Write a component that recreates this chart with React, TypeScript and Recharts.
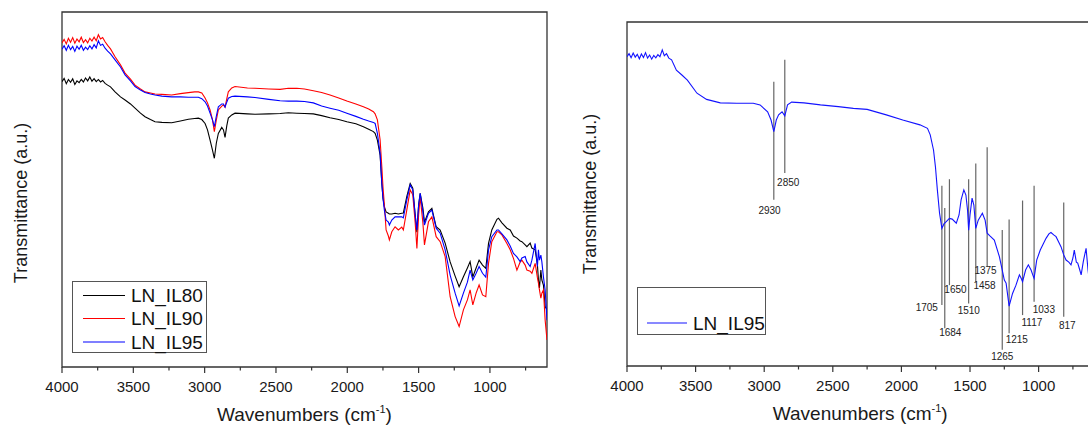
import React from 'react';
import { LineChart, Line, XAxis, YAxis, ReferenceArea, ReferenceLine, ReferenceDot, Legend } from 'recharts';

// ---------- data ----------
const LEFT_WN = [4000,3985,3970,3955,3940,3925,3910,3895,3880,3865,3850,3835,3820,3805,3790,3775,3760,3745,3730,3715,3698,3680,
  3660,3628,3590,3558,3520,3488,3450,3418,3380,3348,3300,3231,3170,3114,3070,3044,3020,2997,2980,2962,2945,2932,2918,2904,2880,2868,2857,2845,2834,2810,2787,2700,2647,2550,2471,2413,2354,2300,2238,2180,2121,2060,2003,1940,1887,1850,1817,1805,1789,1770,1758,1750,1740,1728,1712,1705,1688,1665,1642,1618,1607,1583,1559,1541,1524,1512,1500,1489,1470,1459,1431,1407,1377,1349,1314,1279,1244,1216,1186,1158,1139,1120,1097,1076,1052,1029,1010,987,
  951,940,916,881,858,835,811,788,776,753,741,718,706,683,667,660,653,643,636,625,613,600];
const IL80 = [80.4,81.3,79.8,81.0,80.2,81.2,79.6,80.6,80.1,81.0,80.3,81.4,80.6,81.7,80.5,81.2,80.4,81.0,80.3,80.7,79.9,79.4,
  78.9,77.5,76.1,75.2,74.1,72.9,71.5,70.5,69.7,69.1,68.9,68.8,69.3,69.8,70.0,70.1,69.7,68.6,66.8,63.9,61.1,58.8,63.1,65.8,67.5,66.8,64.7,67.9,70.1,71.0,71.5,71.3,71.2,71.3,71.4,71.6,71.5,71.4,71.3,70.8,70.2,69.7,69.1,68.5,67.7,67.0,66.3,65.8,63.9,59.7,51.8,47.6,45.1,43.7,43.3,43.1,43.1,43.3,43.1,43.3,43.4,48.0,51.7,50.4,42.8,38.0,45.6,48.9,44.8,40.8,43.7,44.7,39.5,38.6,34.9,29.6,25.6,22.6,25.4,27.9,29.7,25.4,27.9,30.1,28.7,27.8,34.8,38.6,
  41.6,41.9,40.6,39.1,38.6,36.9,36.3,35.5,35.3,34.4,33.9,34.9,33.5,33.0,28.7,24.5,22.3,27.3,24.5,23.1,17.0,16.1];
const IL90 = [91.3,92.3,91.0,92.6,91.5,92.8,91.2,92.4,91.6,92.9,91.4,92.2,91.3,92.6,91.8,92.9,91.9,93.6,92.4,92.8,91.6,90.6,
  89.6,87.4,85.1,82.8,81.1,79.4,78.3,77.5,77.2,76.9,76.8,76.6,77.0,77.3,77.5,77.5,77.2,75.8,74.4,72.4,69.6,66.3,69.6,72.4,73.5,73.8,73.2,75.5,77.5,78.6,79.0,78.6,78.5,78.3,78.2,78.5,78.5,78.3,77.8,77.3,76.6,75.8,74.9,74.1,73.3,72.7,71.9,71.3,69.6,64.0,56.4,50.8,45.6,38.6,36.9,35.8,38.1,39.5,38.6,39.4,38.6,44.2,49.9,48.5,40.6,33.4,42.8,48.0,40.6,34.4,40.9,42.3,36.7,35.3,31.1,19.8,14.2,11.4,16.1,18.9,21.7,17.5,20.8,23.1,20.3,19.8,29.2,35.3,
  38.1,38.1,37.2,34.8,33.0,30.6,27.3,29.6,30.1,28.7,27.3,27.0,26.4,29.2,25.1,23.6,21.7,19.4,20.8,21.7,13.2,7.6];
const IL95 = [89.5,90.5,89.2,90.6,89.4,90.3,88.9,90.4,89.5,90.6,89.2,90.1,89.4,90.5,89.6,90.8,89.9,91.9,90.6,90.9,89.8,89.0,
  88.2,86.5,84.5,82.3,80.6,79.0,78.0,77.3,76.9,76.6,76.3,76.1,76.1,76.0,76.0,76.0,75.6,74.7,73.5,71.5,69.6,67.7,70.7,73.3,74.1,74.1,73.2,74.6,75.7,76.2,76.3,76.1,75.9,75.4,75.0,74.9,74.9,74.8,74.4,73.5,72.9,72.3,71.5,70.6,69.8,69.3,68.9,68.6,65.8,60.2,51.7,47.6,44.2,41.4,40.8,40.0,41.4,42.3,42.3,42.3,42.0,47.0,51.3,49.9,42.8,38.6,45.6,48.9,43.7,40.0,43.3,44.2,39.1,37.7,33.0,25.9,20.8,17.2,20.8,23.9,27.3,24.5,26.4,28.3,26.4,25.3,33.0,36.7,
  38.6,38.6,37.5,35.8,34.1,32.0,31.0,29.7,30.7,31.1,29.6,28.3,30.1,34.8,28.3,33.0,30.1,31.5,29.6,25.4,21.7,13.2];

const RIGHT_WN = [4000,3985,3970,3955,3940,3925,3910,3895,3880,3865,3850,3835,3820,3805,3790,3775,3760,3743,3728,3712,3695,3675,
  3640,3600,3560,3490,3420,3320,3200,3080,3030,2975,2950,2930,2912,2895,2870,2850,2830,2800,2710,2590,2460,2350,2250,2110,1990,1865,1810,1790,1766,1752,1738,1722,1705,1690,1675,1650,1630,1600,1580,1565,1545,1530,1518,1510,1500,1485,1472,1458,1440,1410,1390,1375,1355,1323,1286,1265,1250,1237,1215,1190,1165,1140,1128,1117,1095,1075,1055,1040,1033,1014,988,946,925,910,890,873,837,817,800,780,764,750,740,725,715,700,690,675,667,654,640,634,620,600];
const RIGHT_IL95 = [89.9,90.8,89.6,91.0,89.8,90.6,89.3,90.7,89.7,91.1,89.5,90.4,89.2,90.3,89.6,90.5,89.9,91.9,90.2,90.8,89.5,89.0,
  86.0,84.6,83.1,79.3,77.5,76.5,76.4,76.4,75.9,73.9,71.5,68.1,71.5,73.0,73.9,72.7,75.9,76.7,76.5,75.9,75.4,74.9,74.6,73.0,71.5,70.1,69.1,67.2,62.8,57.9,51.2,44.4,40.0,41.3,41.9,42.9,42.7,41.5,43.9,48.3,51.2,49.7,45.3,39.5,43.9,48.8,46.8,40.0,42.4,44.4,42.4,38.6,37.8,36.6,31.8,27.9,25.0,24.1,17.4,21.1,23.5,26.5,25.6,24.5,27.9,29.4,27.9,26.2,25.5,30.8,33.7,37.1,38.4,38.8,38.1,37.6,34.7,32.3,30.8,30.2,29.4,31.4,33.7,30.2,29.9,27.9,26.5,30.2,31.8,34.2,27.9,26.0,29.4,27.9];

const MAJOR_TICKS = [4000, 3500, 3000, 2500, 2000, 1500, 1000];
const MINOR_TICKS = [3750, 3250, 2750, 2250, 1750, 1250, 750];
const ALL_TICKS = [...MAJOR_TICKS, ...MINOR_TICKS].sort((a, b) => b - a);

// peak annotations (right panel)
const PEAK_LABELS = ['2930','2850','1705','1684','1650','1510','1458','1375','1265','1215','1117','1033','817'];
const PEAK_WN = [2930,2850,1705,1684,1650,1510,1458,1375,1265,1215,1117,1033,817];
const PEAK_TOP = [82.6,89.0,52.4,45.9,54.3,54.3,58.9,63.6,39.5,42.6,48.1,52.4,47.5];
const PEAK_BOTTOM = [48.3,56.1,17.7,11.0,23.5,18.2,24.5,28.9,4.7,9.5,14.8,18.7,14.3];
const PEAK_LABEL_WN = [2961,2825,1815,1644,1606,1509,1394,1387,1265,1159,1049,962,791];
const PEAK_LABEL_Y = [45.3,53.3,17.1,9.7,22.3,16.1,23.3,27.9,2.7,7.6,12.6,16.3,11.9];

const SERIES_NAMES = ['LN_IL80', 'LN_IL90', 'LN_IL95'];

const leftData = LEFT_WN.map((wn, i) => ({ wn, il80: IL80[i], il90: IL90[i], il95: IL95[i] }));
const rightData = RIGHT_WN.map((wn, i) => ({ wn, il95: RIGHT_IL95[i] }));

const FONT = '"Liberation Sans", Arial, sans-serif';
const AXIS_COLOR = '#333';

const AxisTick = (props: any) => {
  const { x, y, payload } = props;
  const major = MAJOR_TICKS.includes(payload.value);
  return (
    <g>
      <line x1={x} x2={x} y1={y} y2={y + (major ? 6 : 3.5)} stroke={AXIS_COLOR} strokeWidth={1.2} />
      {major && (
        <text x={x} y={y + 24.5} textAnchor="middle" fontSize={15} fill="#1a1a1a" fontFamily={FONT}>
          {payload.value}
        </text>
      )}
    </g>
  );
};

const xTitle = (props: any) => {
  const vb = props.viewBox || {};
  const cx = vb.x + vb.width / 2;
  return (
    <text x={cx} y={vb.y + 54} textAnchor="middle" fontSize={19} fill="#1a1a1a" fontFamily={FONT}>
      Wavenumbers (cm
      <tspan dy={-8} fontSize={11}>-1</tspan>
      <tspan dy={8}>)</tspan>
    </text>
  );
};

const yTitle = (cx: number, cy: number) => () => (
  <text
    x={cx}
    y={cy}
    transform={`rotate(-90 ${cx} ${cy})`}
    textAnchor="middle"
    dominantBaseline="central"
    fontSize={18}
    fill="#1a1a1a"
    fontFamily={FONT}
  >
    Transmittance (a.u.)
  </text>
);

const LegendBox = (w: number, h: number, rowYs: number[], lineX: [number, number], textX: number) => (props: any) => {
  const payload = props.payload || [];
  return (
    <svg width={w + 2} height={h + 2} style={{ display: 'block' }}>
      <rect x={0.5} y={0.5} width={w} height={h} fill="#fff" stroke="#555" strokeWidth={1} />
      {payload.map((p: any, i: number) => (
        <g key={p.value}>
          <line x1={lineX[0]} x2={lineX[1]} y1={rowYs[i]} y2={rowYs[i]} stroke={p.color} strokeWidth={1.2} />
          <text x={textX} y={rowYs[i]} dominantBaseline="central" fontSize={19} fill="#111" fontFamily={FONT}>
            {p.value}
          </text>
        </g>
      ))}
    </svg>
  );
};

export default function App() {
  return (
    <div
      style={{
        position: 'fixed',
        left: 0,
        top: 0,
        width: 1088,
        height: 428,
        overflow: 'hidden',
        background: '#fff',
        fontFamily: FONT,
      }}
    >
      <div style={{ position: 'absolute', left: 0, top: 0 }}>
        <LineChart width={560} height={428} data={leftData} margin={{ top: 12, right: 13, bottom: 11, left: 0 }}>
          <XAxis
            dataKey="wn"
            type="number"
            domain={[600, 4000]}
            reversed
            ticks={ALL_TICKS}
            interval={0}
            tick={AxisTick}
            tickLine={false}
            tickSize={0}
            tickMargin={0}
            axisLine={false}
            height={50}
            allowDataOverflow
            label={{ content: xTitle }}
          />
          <YAxis
            type="number"
            domain={[0, 100]}
            width={62}
            tick={false}
            tickLine={false}
            axisLine={false}
            allowDataOverflow
            label={{ content: yTitle(21, 203) }}
          />
          <ReferenceArea x1={600} x2={4000} y1={0} y2={100} fill="none" stroke={AXIS_COLOR} strokeWidth={1.3} ifOverflow="visible" />
          <Line dataKey="il80" name={SERIES_NAMES[0]} stroke="#000000" strokeWidth={1.1} dot={false} isAnimationActive={false} />
          <Line dataKey="il90" name={SERIES_NAMES[1]} stroke="#ff0000" strokeWidth={1.1} dot={false} isAnimationActive={false} />
          <Line dataKey="il95" name={SERIES_NAMES[2]} stroke="#0000ff" strokeWidth={1.1} dot={false} isAnimationActive={false} />
          <Legend
            layout="horizontal"
            verticalAlign="middle"
            align="center"
            content={LegendBox(134, 71, [14.5, 37.5, 61], [11, 53], 59)}
            wrapperStyle={{ left: 72, top: 281, width: 136, height: 73, bottom: 'auto', right: 'auto' }}
          />
        </LineChart>
      </div>
      <div style={{ position: 'absolute', left: 560, top: 0 }}>
        <LineChart width={545} height={428} data={rightData} margin={{ top: 22, right: 11.5, bottom: 12, left: 0 }}>
          <XAxis
            dataKey="wn"
            type="number"
            domain={[600, 4000]}
            reversed
            ticks={ALL_TICKS}
            interval={0}
            tick={AxisTick}
            tickLine={false}
            tickSize={0}
            tickMargin={0}
            axisLine={false}
            height={50}
            allowDataOverflow
            label={{ content: xTitle }}
          />
          <YAxis
            type="number"
            domain={[0, 100]}
            width={67}
            tick={false}
            tickLine={false}
            axisLine={false}
            allowDataOverflow
            label={{ content: yTitle(30, 194) }}
          />
          <ReferenceArea x1={600} x2={4000} y1={0} y2={100} fill="none" stroke={AXIS_COLOR} strokeWidth={1.3} ifOverflow="visible" />
          {PEAK_WN.map((wn, i) => (
            <ReferenceLine
              key={`pl-${i}`}
              segment={[{ x: wn, y: PEAK_TOP[i] }, { x: wn, y: PEAK_BOTTOM[i] }]}
              stroke="#666"
              strokeWidth={1.2}
            />
          ))}
          <Line dataKey="il95" name={SERIES_NAMES[2]} stroke="#1414ff" strokeWidth={1.1} dot={false} isAnimationActive={false} />
          {PEAK_LABELS.map((lab, i) => (
            <ReferenceDot
              key={`pd-${i}`}
              x={PEAK_LABEL_WN[i]}
              y={PEAK_LABEL_Y[i]}
              r={0}
              fill="none"
              stroke="none"
              label={{ value: lab, position: 'center', fontSize: 10, fill: '#222', fontFamily: FONT }}
            />
          ))}
          <Legend
            layout="horizontal"
            verticalAlign="middle"
            align="center"
            content={LegendBox(128, 47, [36], [10, 50], 56)}
            wrapperStyle={{ left: 77, top: 287, width: 130, height: 49, bottom: 'auto', right: 'auto' }}
          />
        </LineChart>
      </div>
    </div>
  );
}
